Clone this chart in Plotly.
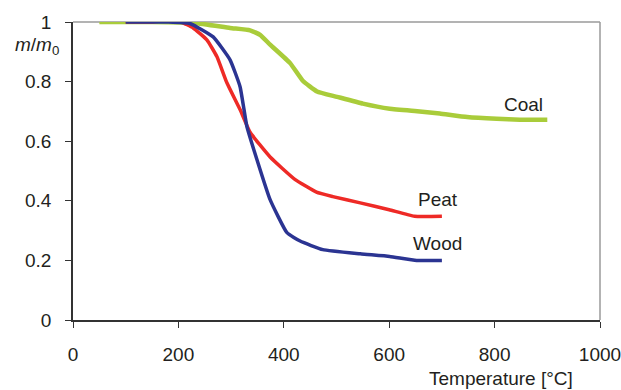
import plotly.graph_objects as go

# Coal
coal_t = [50, 150, 231, 298, 336, 355, 374, 412, 436, 463, 501, 550, 601, 658, 696, 748, 804, 848, 900]
coal_m = [1.0, 1.0, 0.997, 0.98, 0.972, 0.957, 0.924, 0.862, 0.803, 0.767, 0.749, 0.726, 0.709, 0.70, 0.693, 0.681, 0.675, 0.672, 0.672]
# Peat
peat_t = [100, 150, 178, 205, 228, 254, 273, 292, 317, 336, 374, 421, 462, 493, 545, 600, 648, 700]
peat_m = [1.0, 1.0, 1.006, 1.0, 0.98, 0.94, 0.884, 0.796, 0.706, 0.63, 0.547, 0.472, 0.429, 0.414, 0.393, 0.37, 0.348, 0.348]
# Wood
wood_t = [100, 180, 222, 266, 298, 317, 330, 350, 374, 406, 431, 474, 545, 601, 652, 700]
wood_m = [1.0, 1.0, 0.995, 0.95, 0.873, 0.783, 0.649, 0.533, 0.404, 0.293, 0.265, 0.236, 0.222, 0.213, 0.2, 0.2]

x_ticks = [0, 200, 400, 600, 800, 1000]
y_ticks = [0, 0.2, 0.4, 0.6, 0.8, 1]
y_tick_text = ["0", "0.2", "0.4", "0.6", "0.8", "1"]

labels = ["Coal", "Peat", "Wood"]
label_x = [854, 693, 691]
label_y = [0.723, 0.404, 0.256]

FONT = "Liberation Sans, Arial, sans-serif"
TXT = "#231f20"

fig = go.Figure()
fig.add_trace(go.Scatter(x=coal_t, y=coal_m, mode="lines", line=dict(color="#a9cc3a", width=4.5, shape="spline", smoothing=0.4), showlegend=False))
fig.add_trace(go.Scatter(x=peat_t, y=peat_m, mode="lines", line=dict(color="#ee2a26", width=3.5, shape="spline", smoothing=0.4), showlegend=False))
fig.add_trace(go.Scatter(x=wood_t, y=wood_m, mode="lines", line=dict(color="#2b3492", width=3.5, shape="spline", smoothing=0.4), showlegend=False))

for t, xx, yy in zip(labels, label_x, label_y):
    fig.add_annotation(x=xx, y=yy, text=t, showarrow=False, font=dict(family=FONT, size=19, color=TXT))

fig.add_annotation(xref="paper", yref="y", x=-0.022, y=0.92, xanchor="right", yanchor="middle",
                   text="<i>m</i>/<i>m</i><sub>0</sub>", showarrow=False, font=dict(family=FONT, size=19, color=TXT))
fig.add_annotation(xref="paper", yref="paper", x=0.953, y=-0.196, xanchor="right", yanchor="middle",
                   text="Temperature [°C]", showarrow=False, font=dict(family=FONT, size=19, color=TXT))

# top and right frame lines (gray)
fig.add_shape(type="line", xref="paper", yref="paper", x0=0, x1=1, y0=1, y1=1, line=dict(color="#9a9a9a", width=1.5), layer="below")
fig.add_shape(type="line", xref="paper", yref="paper", x0=1, x1=1, y0=0, y1=1, line=dict(color="#9a9a9a", width=1.5), layer="below")

fig.update_xaxes(range=[0, 1000], tickvals=x_ticks, ticks="outside", ticklen=6, tickcolor="#333",
                 showline=True, linecolor="#333", linewidth=1.5, showgrid=False, zeroline=False,
                 tickfont=dict(family=FONT, size=19, color=TXT), ticklabelstandoff=10,
                 ticklabeloverflow="allow", automargin=False)
fig.update_yaxes(range=[0, 1], tickvals=y_ticks, ticktext=y_tick_text, ticks="outside", ticklen=6, tickcolor="#333",
                 showline=True, linecolor="#333", linewidth=1.5, showgrid=False, zeroline=False,
                 tickfont=dict(family=FONT, size=19, color=TXT), ticklabelstandoff=10, automargin=False)

fig.update_layout(width=621, height=390, margin=dict(l=73, r=21, t=22, b=70, autoexpand=False),
                  plot_bgcolor="white", paper_bgcolor="white")

# remove the browser's default body margin so the figure sits at the window origin
fig.write_html("out.html", config={"displayModeBar": False},
               post_script="document.body.style.margin='0';document.body.style.overflow='hidden';")
